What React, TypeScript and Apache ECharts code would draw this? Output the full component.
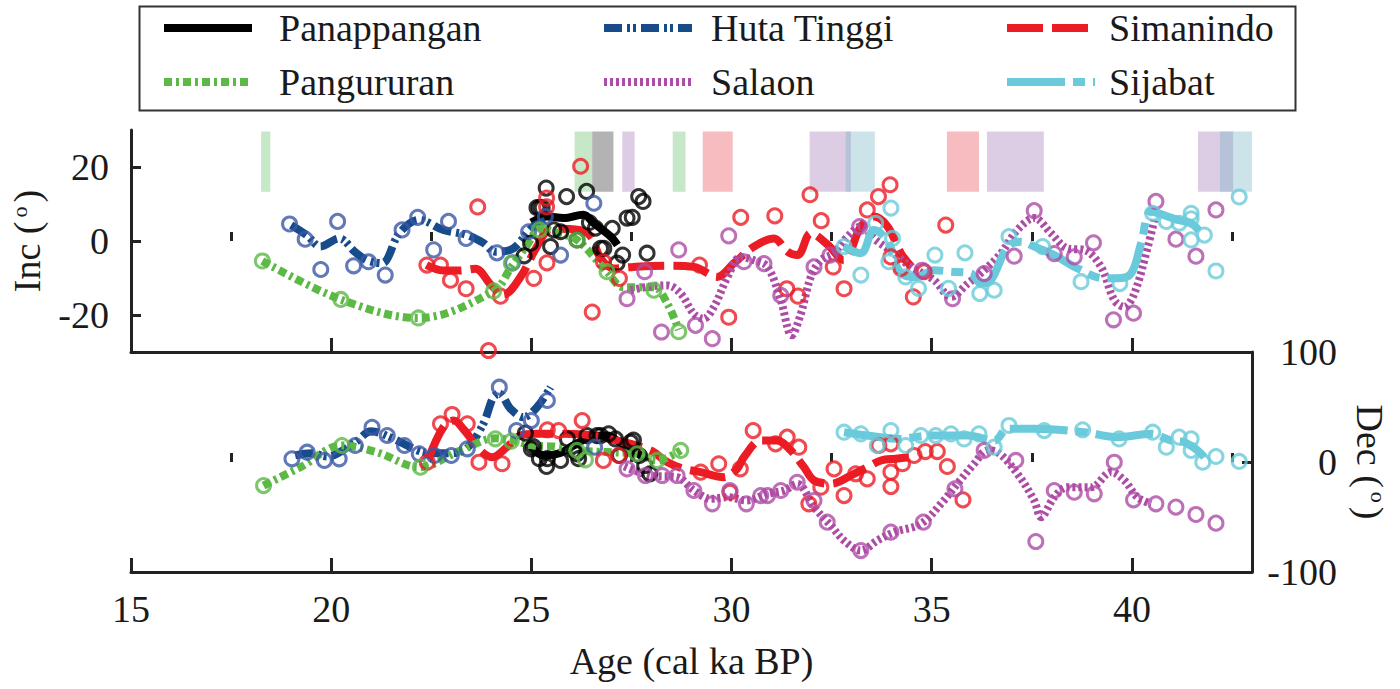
import React, { useEffect, useRef } from "react";
import * as echarts from "echarts";

const FONT = "Liberation Serif";
const INK = "#1a1a1a";

// ---------- tick values ----------
const majorAgeTicks = [15, 20, 25, 30, 35, 40];
const minorAgeTicks = [17.5, 22.5, 27.5, 32.5, 37.5, 42.5];
const incTicks = [-20, 0, 20];

// ---------- site names ----------
const sites = ["Panappangan", "Huta Tinggi", "Simanindo", "Pangururan", "Salaon", "Sijabat"];

// ---------- Panappangan (black) ----------
const panaIncPts = [[24.82,-4.0],[24.98,-0.6],[25.14,9],[25.2,9],[25.27,9],[25.37,14.3],[25.48,-1.5],[25.56,3],[25.73,2.5],[25.88,12],[26.14,0.3],[26.38,13.4],[26.45,5],[26.6,3.5],[26.73,-2],[26.81,-2],[27.02,3.4],[27.14,-6],[27.28,-3.8],[27.39,6.2],[27.52,6.4],[27.68,12],[27.79,10.7],[27.89,-3.3]];
const panaIncLine = [[25.0,5.0],[25.4,6.6],[25.8,6.2],[26.3,7.1],[26.56,4.8],[26.98,1.2],[27.15,-1.1]];
const panaDecPts = [[24.85,26.2],[25.0,12],[25.05,14],[25.2,3],[25.4,3],[25.38,-4],[25.73,1.4],[25.9,21],[26.06,10.5],[26.14,7.4],[26.18,3],[26.39,24],[26.64,24],[26.73,24],[26.93,25.6],[27.1,21],[27.2,5.9],[27.48,18],[27.55,20],[27.7,5.9],[27.83,-3.2],[27.96,-10.7]];
const panaDecLine = [[25.0,14],[25.3,6],[25.7,8],[26.1,16],[26.5,23],[26.9,24],[27.2,18],[27.5,12],[27.8,4]];

// ---------- Huta Tinggi (blue) ----------
const hutaIncPts = [[18.96,4.6],[19.35,0.5],[19.74,-7.7],[20.16,5.3],[20.56,-6.7],[20.93,-5.6],[21.35,-9.2],[21.77,3.0],[22.16,6.4],[22.56,-2.4],[22.93,5.3],[23.37,0.7],[24.14,-3.2],[24.53,-5.9],[24.93,2.5],[25.35,6.6],[25.73,-3.8],[26.56,10.2]];
const hutaIncLine = [[19.0,4.3],[19.4,1.5],[19.73,-1.5],[20.2,0.7],[20.6,-3],[20.9,-5.2],[21.27,-6],[21.7,2.1],[22.2,5.7],[22.8,3],[23.4,1.6],[23.8,-0.5],[24.1,-2.9],[24.55,-2],[25.0,3.5],[25.35,5.5]];
const hutaDecPts = [[19.02,2.9],[19.4,8.9],[19.83,1.4],[20.2,2.9],[20.6,15],[21.02,31.6],[21.4,24.1],[21.83,15],[22.2,7.4],[22.58,5.9],[23.0,5.9],[23.4,12],[24.2,68],[24.63,28.6],[25.0,37.7],[25.4,55.9],[26.58,13.5]];
const hutaDecLine = [[19.1,6],[19.5,8],[19.9,5],[20.6,18],[21.0,28],[21.5,22],[22.2,10],[22.6,8],[23.0,8],[23.4,13],[23.8,34.7],[24.05,58.9],[24.2,62],[24.48,48.3],[24.8,40.7],[25.14,49.8],[25.48,68]];

// ---------- Simanindo (red) ----------
const simIncPts = [[22.39,-6.5],[22.73,-6.5],[22.98,-10.6],[23.37,-12.9],[23.66,9.2],[23.93,-29.6],[24.23,-14.9],[25.06,-10.1],[25.38,11.6],[25.38,9.2],[25.39,-5.9],[26.23,20.2],[26.52,-19.2],[26.8,-5.6],[27.2,-10.1],[29.2,-6.5],[29.93,-20.6],[30.23,6.4],[31.08,6.8],[31.38,-12.9],[31.66,-14.9],[31.96,12.5],[32.24,5.5],[32.54,-7],[32.81,-12.9],[33.39,8.4],[33.67,12],[33.96,15.2],[33.98,-4.3],[34.23,-7.4],[34.54,-15.1],[34.81,-8.3],[35.35,4.3]];
const simIncLine = [[22.38,-6.5],[22.8,-8],[23.2,-8],[23.6,-7.5],[24.0,-12],[24.3,-14.5],[24.73,-9.7],[25.14,-1.5],[25.5,3.3],[26.2,3],[26.5,1],[26.73,-4.7],[27.06,-7.4],[27.55,-7],[28.4,-6.7],[29.06,-7],[29.64,-9.7],[30.06,-6],[30.56,-1.5],[31.06,0.7],[31.4,-2.9],[31.65,-3.8],[31.98,2.1],[32.4,-1],[32.8,-5.2],[33.23,3.9],[33.56,6.6],[33.9,3.9],[34.23,-3.3],[34.5,-7]];
const simDecPts = [[22.4,-0.2],[22.73,34.7],[23.02,43.2],[23.4,34.7],[23.69,-0.2],[24.27,-1.6],[25.4,29.3],[25.68,28.6],[26.27,37.7],[26.8,1.4],[27.18,5.9],[29.23,-9.2],[29.68,-1.6],[29.96,-27.5],[30.22,-6.2],[30.54,28.6],[31.1,16.5],[31.39,22.6],[31.68,13.5],[31.93,-38],[32.23,-22.9],[32.56,-6.2],[32.81,-30.5],[33.1,-10.7],[33.39,-15.3],[33.68,15],[33.98,16.5],[33.98,-9.2],[33.98,-22.3],[34.27,-1.6],[34.56,5.9],[34.84,9.5],[35.14,9.5],[35.39,-4.1],[35.78,-34.4]];
const simDecLine = [[22.43,2.9],[22.8,31.6],[23.06,37.7],[23.3,30],[23.73,10.5],[24.02,4.4],[24.39,13.5],[24.73,24.1],[25.14,25.6],[25.64,25.6],[26.3,25],[27.14,19.5],[27.98,10.5],[28.39,0],[28.81,-6.2],[29.23,-9.2],[29.81,-13.8],[30.14,-6.2],[30.31,4.4],[30.73,19.5],[31.14,19.5],[31.48,10.5],[31.81,-4.7],[32.06,-16.8],[32.48,-19.8],[33.06,-10.7],[33.39,-4.7],[33.73,1.4],[34.1,3],[34.48,4.4]];

// ---------- Pangururan (green) ----------
const panguIncPts = [[18.28,-5.4],[20.24,-15.8],[22.18,-20.8],[24.06,-13.5],[24.5,-6],[25.2,3],[26.14,0.3],[26.89,-8.3],[28.06,-13.3],[28.68,-24.5]];
const panguIncLine = [[18.28,-5.4],[20.24,-15.8],[22.18,-20.8],[24.06,-13.5],[24.5,-7],[24.9,-1],[25.23,3.4],[25.7,2],[26.14,0.3],[26.89,-8.3],[27.3,-12.5],[28.06,-12.5],[28.4,-17],[28.68,-24]];
const panguDecPts = [[18.31,-21.4],[20.27,15],[22.23,-4.7],[24.1,21.1],[24.5,19],[26.14,10.5],[26.35,2],[27.64,7.5],[28.14,1.4],[28.73,10.5]];
const panguDecLine = [[18.31,-21.4],[19.23,-4.7],[20.27,15],[21.14,8.9],[22.2,-4.7],[23.23,10.5],[24.1,21.5],[24.55,19.5],[25.05,15],[25.6,14],[26.14,10.5],[26.9,9],[27.64,7.5],[28.14,1.4],[28.73,10.5]];

// ---------- Salaon (purple) ----------
const salIncPts = [[27.39,-15.6],[27.83,-8.3],[28.25,-24.6],[28.68,-2.4],[29.1,-22.8],[29.52,-26.4],[29.93,1.4],[30.31,-5.6],[30.81,-6.1],[31.23,-14.7],[32.06,-7],[32.46,-3.8],[33.2,3.9],[34.76,-7.9],[35.52,-15.6],[36.31,-8.8],[37.06,-4.1],[37.56,8.2],[38.06,-3.4],[38.56,-4.3],[39.04,-0.5],[39.54,-21.3],[40.04,-19.5],[40.6,10.7],[41.1,0.5],[41.6,-4.1],[42.1,8.4]];
const salIncLine = [[27.48,-13.3],[27.9,-12.4],[28.4,-12],[28.73,-14.2],[29.06,-19.7],[29.3,-21],[29.56,-17.8],[29.9,-9.7],[30.23,-4.3],[30.56,-5.2],[30.9,-7],[31.23,-16],[31.5,-25.5],[31.73,-19.7],[31.98,-9.7],[32.23,-5.2],[32.55,-3.3],[32.9,1.2],[33.23,3.9],[33.6,0.3],[34.06,-3.3],[34.48,-7],[35.06,-10.6],[35.48,-15.1],[35.9,-11.5],[36.31,-7.9],[36.73,-3.3],[37.14,3],[37.56,6.2],[37.98,2.1],[38.39,-2],[38.81,-2.4],[39.23,-7],[39.56,-16],[39.81,-17.8],[40.06,-14.2],[40.4,-1.5],[40.56,5.7]];
const salDecPts = [[27.39,-6.2],[27.85,-12.3],[28.27,-12.3],[28.64,-12.3],[29.06,-25.9],[29.52,-38],[29.96,-25.9],[30.37,-38],[30.73,-30.5],[30.9,-30.5],[31.23,-25.9],[31.64,-18.4],[32.06,-35],[32.39,-54.7],[33.23,-80.5],[33.98,-63.8],[34.79,-54.7],[35.58,-24.4],[36.31,10.5],[37.1,1.4],[37.6,-72.3],[38.06,-25.9],[38.56,-27.5],[39.06,-28.9],[39.56,-0.2],[40.04,-34.4],[40.6,-38],[41.1,-41],[41.6,-47.7],[42.1,-55.6]];
const salDecLine = [[27.32,-4],[27.98,-12.3],[28.64,-13.8],[29.06,-25.9],[29.48,-33.5],[29.9,-32],[30.37,-35],[30.9,-28.9],[31.31,-25.9],[31.64,-19.8],[32.06,-41],[32.48,-57.7],[32.81,-71.4],[33.23,-80.5],[33.64,-71.4],[34.06,-63.8],[34.73,-56.2],[35.23,-38],[35.64,-19.8],[36.06,-1.6],[36.39,10.5],[36.64,8.9],[37.14,-10.7],[37.56,-35],[37.73,-50.2],[38.06,-32],[38.39,-22.9],[38.98,-22.9],[39.48,-9.2],[39.81,-16.8],[40.14,-32],[40.48,-38]];

// ---------- Sijabat (cyan) ----------
const sijIncPts = [[32.81,-1.5],[33.23,-9.2],[33.6,4.8],[33.93,-5.6],[33.98,8.9],[34.02,0.7],[34.35,-9.7],[34.67,-12.8],[35.08,-3.8],[35.42,-12.8],[35.83,-3.2],[36.2,-14.2],[36.56,-13.3],[36.93,1.2],[37.77,-1.5],[38.73,-11],[39.7,-11.5],[40.52,7.5],[40.86,5.3],[41.18,4.8],[41.48,7.5],[41.48,6],[41.48,0.3],[41.81,1.6],[42.1,-8.1],[42.68,11.9]];
const sijIncLine = [[32.8,-1.5],[33.23,-3.3],[33.56,3],[33.9,0],[34.23,-8.7],[34.64,-9.7],[35.06,-7.9],[35.48,-8.3],[35.98,-8.8],[36.23,-11.5],[36.48,-10.6],[36.9,-1.5],[37.23,-0.2],[37.56,-1.5],[38.06,-3.8],[38.64,-7.4],[39.31,-10.1],[39.64,-10.1],[39.98,-8.8],[40.23,-0.6],[40.48,8],[40.9,6.6],[41.14,5.7],[41.48,4.8],[41.73,2.1]];
const sijDecPts = [[32.81,27.1],[33.23,25.6],[33.64,15],[33.98,28.6],[34.35,15],[34.73,24.1],[35.1,24],[35.48,25.6],[35.81,21],[36.18,25.6],[36.56,13.5],[36.93,33.2],[37.81,28.6],[38.77,29.3],[39.68,21],[40.52,27.1],[40.86,13.5],[41.18,22.6],[41.48,21],[41.48,10.5],[41.77,-0.2],[42.1,5],[42.68,0.5]];
const sijDecLine = [[32.81,27.1],[33.39,24.1],[34.23,21],[34.56,22.6],[35.06,24.1],[35.9,24.1],[36.56,19.5],[36.9,30.2],[37.56,30.2],[38.81,27.1],[39.64,22.6],[40.48,25.6],[40.98,19.5],[41.31,18],[41.64,10.5],[41.81,4.4]];

// ---------- age-range bands (ka) ----------
const panaBands = [[26.52, 27.05]];
const panguBands = [[18.25, 18.48], [26.08, 26.52], [28.53, 28.85]];
const salBands = [[27.27, 27.58], [31.95, 32.98], [36.38, 37.8], [41.65, 42.53]];
const simBands = [[29.28, 30.03], [35.38, 36.18]];
const sijBands = [[32.85, 33.58], [42.2, 43.0]];
const bandInc = [13.3, 29.6];

type Site = {
  name: string; line: string; dot: string; dash: number[] | "solid";
  incLine: number[][]; incPts: number[][]; decLine: number[][]; decPts: number[][];
  bands: number[][]; band: string;
};

const siteDefs: Site[] = [
  { name: sites[0], line: "#000000", dot: "#000000", dash: "solid", incLine: panaIncLine, incPts: panaIncPts, decLine: panaDecLine, decPts: panaDecPts, bands: panaBands, band: "rgba(38,38,38,0.35)" },
  { name: sites[1], line: "#174c8a", dot: "#3b57a6", dash: [18, 5, 3, 3, 3, 5], incLine: hutaIncLine, incPts: hutaIncPts, decLine: hutaDecLine, decPts: hutaDecPts, bands: [], band: "" },
  { name: sites[2], line: "#ec1c24", dot: "#ec1c24", dash: [36, 9], incLine: simIncLine, incPts: simIncPts, decLine: simDecLine, decPts: simDecPts, bands: simBands, band: "rgba(232,64,72,0.35)" },
  { name: sites[3], line: "#5cb946", dot: "#5cb946", dash: [8, 4, 3, 4], incLine: panguIncLine, incPts: panguIncPts, decLine: panguDecLine, decPts: panguDecPts, bands: panguBands, band: "rgba(92,189,98,0.35)" },
  { name: sites[4], line: "#ad4ca5", dot: "#ad4ca5", dash: [3, 3], incLine: salIncLine, incPts: salIncPts, decLine: salDecLine, decPts: salDecPts, bands: salBands, band: "rgba(155,112,178,0.35)" },
  { name: sites[5], line: "#6acadb", dot: "#6acadb", dash: [58, 8, 12, 8], incLine: sijIncLine, incPts: sijIncPts, decLine: sijDecLine, decPts: sijDecPts, bands: sijBands, band: "rgba(112,175,195,0.35)" },
];

function buildSeries() {
  const lines: any[] = [];
  const dots: any[] = [];
  siteDefs.forEach((s) => {
    const ls = { color: s.line, width: 8, type: s.dash, cap: "butt" };
    lines.push({
      name: s.name, type: "line", xAxisIndex: 0, yAxisIndex: 0, data: s.incLine,
      smooth: 0.35, symbol: "none", showSymbol: false, lineStyle: ls, itemStyle: { color: s.line }, z: 3,
      markArea: s.bands.length ? {
        silent: true,
        itemStyle: { color: s.band },
        data: s.bands.map((b) => [{ xAxis: b[0], yAxis: bandInc[0] }, { xAxis: b[1], yAxis: bandInc[1] }]),
      } : undefined,
    });
  });
  siteDefs.forEach((s) => {
    const ls = { color: s.line, width: 8, type: s.dash, cap: "butt" };
    lines.push({
      name: s.name, type: "line", xAxisIndex: 2, yAxisIndex: 1, data: s.decLine,
      smooth: 0.35, symbol: "none", showSymbol: false, lineStyle: ls, itemStyle: { color: s.line }, z: 3,
    });
  });
  siteDefs.forEach((s) => {
    const st = { color: "rgba(0,0,0,0)", borderColor: s.dot, borderWidth: 3 };
    dots.push({ name: s.name, type: "scatter", xAxisIndex: 0, yAxisIndex: 0, data: s.incPts, symbol: "circle", symbolSize: 14, itemStyle: st, z: 4, clip: false });
    dots.push({ name: s.name, type: "scatter", xAxisIndex: 2, yAxisIndex: 1, data: s.decPts, symbol: "circle", symbolSize: 14, itemStyle: st, z: 4, clip: false });
  });
  return [...lines, ...dots];
}

const axisLine = { show: true, onZero: false, lineStyle: { color: "#222", width: 3 } };
const tickStyle = { color: "#222", width: 3 };
const labelText = { fontFamily: FONT, fontSize: 38, color: INK };

function legendCol(left: number, textPad: number, names: string[]) {
  return {
    left, top: 9, orient: "vertical", padding: 0, itemGap: 16,
    itemWidth: 88, itemHeight: 8, data: names,
    lineStyle: { width: 8 }, itemStyle: { opacity: 0 }, selectedMode: false,
    textStyle: { ...labelText, padding: [0, 0, 0, textPad] },
  };
}

export default function App() {
  const ref = useRef<HTMLDivElement>(null);
  useEffect(() => {
    if (!ref.current) return;
    const chart = echarts.init(ref.current, undefined, { renderer: "svg" });
    const ageAxis = (grid: number, labels: boolean) => [
      {
        type: "value", gridIndex: grid, min: 15, max: 43, position: "bottom",
        axisLine, splitLine: { show: false },
        axisTick: { show: true, inside: true, length: 14, customValues: majorAgeTicks, lineStyle: tickStyle },
        axisLabel: labels ? { show: true, customValues: majorAgeTicks, margin: 18, ...labelText } : { show: false },
        name: labels ? "Age (cal ka BP)" : "", nameLocation: "middle", nameGap: 70,
        nameTextStyle: labelText,
      },
      {
        type: "value", gridIndex: grid, min: 15, max: 43, position: "bottom",
        axisLine: { show: false }, splitLine: { show: false },
        axisTick: { show: true, inside: true, length: 9, customValues: minorAgeTicks, lineStyle: tickStyle },
        axisLabel: { show: false },
      },
    ];
    const rich = { s: { fontFamily: FONT, fontSize: 22, color: INK, verticalAlign: "top", padding: [0, 4, 0, 4] } };
    chart.setOption({
      animation: false,
      backgroundColor: "#ffffff",
      textStyle: { fontFamily: FONT },
      grid: [
        { left: 131, top: 130, width: 1121, height: 222 },
        { left: 131, top: 352, width: 1121, height: 220 },
      ],
      xAxis: [...ageAxis(0, false), ...ageAxis(1, true)],
      yAxis: [
        {
          type: "value", gridIndex: 0, min: -30, max: 30, position: "left",
          axisLine, splitLine: { show: false },
          axisTick: { show: true, inside: true, length: 10, customValues: incTicks, lineStyle: tickStyle },
          axisLabel: { customValues: incTicks, margin: 22, ...labelText },
          name: "Inc ({s|o})", nameLocation: "middle", nameGap: 85,
          nameTextStyle: { ...labelText, rich },
        },
        {
          type: "value", gridIndex: 1, min: -100, max: 100, interval: 100, position: "right",
          axisLine, splitLine: { show: false },
          axisTick: { show: true, inside: true, length: 10, lineStyle: tickStyle },
          axisLabel: { margin: 85, align: "right", ...labelText },
          name: "Dec ({s|o})", nameLocation: "middle", nameGap: 99, nameRotate: -90,
          nameTextStyle: { ...labelText, rich },
        },
      ],
      legend: [
        legendCol(160, 22, [sites[0], sites[3]]),
        legendCol(600, 14, [sites[1], sites[4]]),
        legendCol(1003, 9, [sites[2], sites[5]]),
      ],
      graphic: [
        { type: "rect", left: 137, top: 4, shape: { width: 1156, height: 104 }, style: { fill: "none", stroke: "#333", lineWidth: 2 }, z: 0 },
      ],
      series: buildSeries(),
    });
    return () => chart.dispose();
  }, []);
  return <div ref={ref} style={{ position: "fixed", left: 0, top: 0, width: 1400, height: 689, background: "#fff" }} />;
}
